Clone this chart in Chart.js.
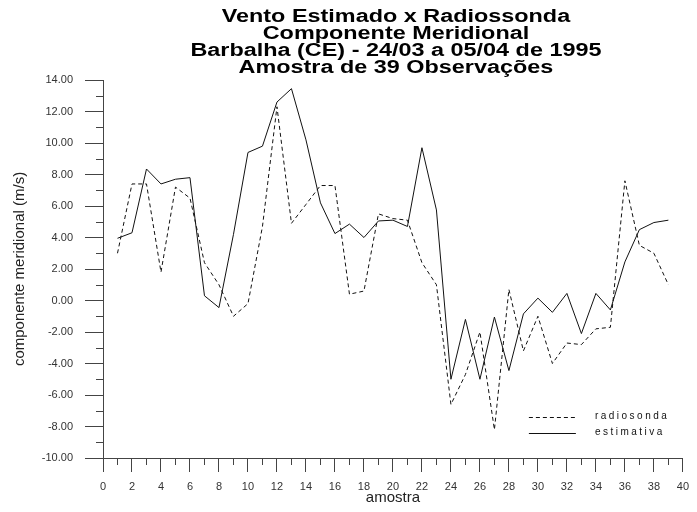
<!DOCTYPE html>
<html lang="pt">
<head>
<meta charset="utf-8">
<title>Vento Estimado x Radiossonda</title>
<script src="https://cdn.jsdelivr.net/npm/chart.js@4.4.1/dist/chart.umd.min.js"></script>
<style>
  html, body { margin: 0; padding: 0; background: #fff; }
  #wrap { width: 697px; height: 512px; }
</style>
</head>
<body>
<div id="wrap"><canvas id="chart" width="697" height="512"></canvas></div>
<script>
// amostra (observation index)
const amostra = [1, 2, 3, 4, 5, 6, 7, 8, 9, 10, 11, 12, 13, 14, 15, 16, 17, 18, 19, 20,
  21, 22, 23, 24, 25, 26, 27, 28, 29, 30, 31, 32, 33, 34, 35, 36, 37, 38, 39];

// componente meridional (m/s)
const radiosonda = [3.0, 7.4, 7.4, 1.8, 7.2, 6.5, 2.4, 1.0, -1.0, -0.2,
  4.7, 12.3, 4.9, 6.1, 7.3, 7.3, 0.4, 0.6, 5.5, 5.2,
  5.1, 2.4, 1.0, -6.6, -4.7, -2.0, -8.2, 0.7, -3.2, -1.0,
  -4.0, -2.7, -2.8, -1.8, -1.7, 7.6, 3.5, 3.0, 1.0];

const estimativa = [3.95, 4.3, 8.35, 7.4, 7.7, 7.8, 0.3, -0.45, 4.2, 9.4,
  9.8, 12.6, 13.45, 10.2, 6.2, 4.25, 4.85, 4.0, 5.05, 5.1,
  4.7, 9.7, 5.75, -5.0, -1.2, -5.0, -1.05, -4.45, -0.85, 0.15,
  -0.75, 0.45, -2.1, 0.45, -0.6, 2.45, 4.5, 4.95, 5.1];

const xRange = [0, 40];
const yRange = [-10, 14];

const titleLines = [
  'Vento Estimado x Radiossonda',
  'Componente Meridional',
  'Barbalha (CE) - 24/03 a 05/04 de 1995',
  'Amostra de 39 Observações',
];

const FONT = "'Liberation Sans', Arial, sans-serif";
const ink = '#111';
const axisInk = '#444';

const isMajor = (v) => v % 2 === 0;

// wide, squat title like the original plotting package
const stretchedTitle = {
  id: 'stretchedTitle',
  afterDraw(chart) {
    const { ctx, chartArea } = chart;
    const cx = (chartArea.left + chartArea.right) / 2 + 3;
    ctx.save();
    ctx.fillStyle = '#000';
    ctx.font = `bold 18px ${FONT}`;
    ctx.textAlign = 'center';
    ctx.textBaseline = 'alphabetic';
    titleLines.forEach((line, i) => {
      ctx.save();
      ctx.translate(cx, 22 + i * 17);
      ctx.scale(1.3, 1);
      ctx.fillText(line, 0, 0);
      ctx.restore();
    });
    ctx.restore();
  },
};

// short ticks at the odd values
const minorTicks = {
  id: 'minorTicks',
  afterDraw(chart) {
    const { ctx, scales: { x, y } } = chart;
    ctx.save();
    ctx.strokeStyle = axisInk;
    ctx.lineWidth = 1;
    ctx.beginPath();
    for (let v = x.min + 1; v < x.max; v += 2) {
      const px = Math.round(x.getPixelForValue(v)) + 0.5;
      ctx.moveTo(px, x.top);
      ctx.lineTo(px, x.top + 7);
    }
    for (let v = y.min + 1; v < y.max; v += 2) {
      const py = Math.round(y.getPixelForValue(v)) + 0.5;
      ctx.moveTo(y.right - 7, py);
      ctx.lineTo(y.right, py);
    }
    ctx.stroke();
    ctx.restore();
  },
};

// legend sits inside the plot, lower right
const insetLegend = {
  id: 'insetLegend',
  afterDraw(chart) {
    const { ctx, chartArea } = chart;
    const x0 = chartArea.right - 154;
    const y0 = chartArea.bottom - 41.5;
    ctx.save();
    ctx.font = `10px ${FONT}`;
    ctx.letterSpacing = '2.5px';
    ctx.fillStyle = ink;
    ctx.textBaseline = 'middle';
    chart.data.datasets.forEach((ds, i) => {
      const y = Math.round(y0 + i * 16) + 0.5;
      ctx.beginPath();
      ctx.setLineDash(ds.borderDash || []);
      ctx.strokeStyle = ds.borderColor;
      ctx.lineWidth = 1;
      ctx.moveTo(x0, y);
      ctx.lineTo(x0 + 47, y);
      ctx.stroke();
      ctx.fillText(ds.label, x0 + 66, y - 1);
    });
    ctx.restore();
  },
};

Chart.defaults.font.family = FONT;
Chart.defaults.color = '#333';

new Chart(document.getElementById('chart'), {
  type: 'line',
  data: {
    datasets: [
      {
        label: 'radiosonda',
        data: amostra.map((a, i) => ({ x: a, y: radiosonda[i] })),
        borderColor: ink,
        borderWidth: 1,
        borderDash: [4, 3],
        pointRadius: 0,
        tension: 0,
        fill: false,
      },
      {
        label: 'estimativa',
        data: amostra.map((a, i) => ({ x: a, y: estimativa[i] })),
        borderColor: ink,
        borderWidth: 1,
        pointRadius: 0,
        tension: 0,
        fill: false,
      },
    ],
  },
  options: {
    responsive: false,
    animation: false,
    devicePixelRatio: 1,
    layout: { padding: { top: 80, right: 13, bottom: 0, left: 0 } },
    plugins: {
      legend: { display: false },
      title: { display: false },
      tooltip: { enabled: false },
    },
    scales: {
      x: {
        type: 'linear',
        min: xRange[0],
        max: xRange[1],
        afterFit: (s) => { s.height = 54; },
        border: { display: true, color: axisInk, width: 1 },
        grid: {
          drawOnChartArea: false,
          drawTicks: true,
          tickLength: 14,
          tickColor: (c) => (isMajor(c.tick.value) ? axisInk : 'rgba(0,0,0,0)'),
        },
        ticks: {
          stepSize: 1,
          autoSkip: false,
          maxRotation: 0,
          padding: 8,
          font: { size: 11 },
          callback: (v) => (isMajor(v) ? String(v) : ''),
        },
        title: {
          display: true,
          text: 'amostra',
          font: { size: 15 },
          color: '#222',
          padding: { top: 0, bottom: 5 },
        },
      },
      y: {
        type: 'linear',
        min: yRange[0],
        max: yRange[1],
        afterFit: (s) => { s.width = 103; },
        border: { display: true, color: axisInk, width: 1 },
        grid: {
          drawOnChartArea: false,
          drawTicks: true,
          tickLength: 18,
          tickColor: (c) => (isMajor(c.tick.value) ? axisInk : 'rgba(0,0,0,0)'),
        },
        ticks: {
          stepSize: 1,
          autoSkip: false,
          padding: 12,
          font: { size: 11 },
          callback: (v) => (isMajor(v) ? v.toFixed(2) : ''),
        },
        title: {
          display: true,
          text: 'componente meridional (m/s)',
          font: { size: 15 },
          color: '#222',
          padding: { top: 11, bottom: 0 },
        },
      },
    },
  },
  plugins: [stretchedTitle, minorTicks, insetLegend],
});
</script>
</body>
</html>
